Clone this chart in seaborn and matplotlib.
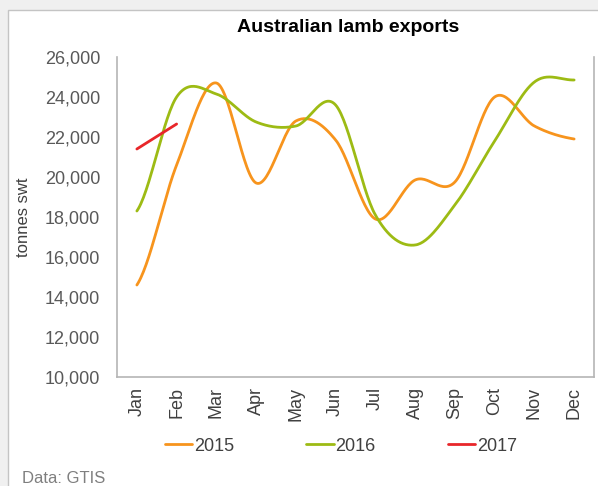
import numpy as np
import pandas as pd
import matplotlib
matplotlib.use("Agg")
import matplotlib.pyplot as plt
from matplotlib.patches import Rectangle
from matplotlib.lines import Line2D
import seaborn as sns

months = ["Jan", "Feb", "Mar", "Apr", "May", "Jun", "Jul", "Aug", "Sep", "Oct", "Nov", "Dec"]
exports_2015 = [14600, 20600, 24700, 19700, 22800, 21850, 17900, 19850, 19750, 24000, 22550, 21900]
exports_2016 = [18300, 24000, 24150, 22750, 22550, 23600, 18100, 16600, 18600, 21800, 24750, 24850]
exports_2017 = [21400, 22650]
yticks = [10000, 12000, 14000, 16000, 18000, 20000, 22000, 24000, 26000]

colors = {"2015": "#F7941D", "2016": "#9DBB14", "2017": "#E8262A"}

sns.set_theme(style="white")
plt.rcParams["font.family"] = ["Liberation Sans", "DejaVu Sans"]


def smooth(vals, n=30):
    """Catmull-Rom (Excel-style smoothed line) through the data points."""
    v = np.asarray(vals, dtype=float)
    x = np.arange(len(v), dtype=float)
    if len(v) < 3:
        return x, v
    p = np.concatenate([[v[0]], v, [v[-1]]])
    xs, ys = [], []
    for i in range(len(v) - 1):
        p0, p1, p2, p3 = p[i], p[i + 1], p[i + 2], p[i + 3]
        t = np.linspace(0, 1, n, endpoint=(i == len(v) - 2))
        c1 = p1 + (p2 - p0) / 6.0
        c2 = p2 - (p3 - p1) / 6.0
        y = ((1 - t) ** 3) * p1 + 3 * ((1 - t) ** 2) * t * c1 + 3 * (1 - t) * t ** 2 * c2 + t ** 3 * p2
        xs.append(x[i] + t)
        ys.append(y)
    return np.concatenate(xs), np.concatenate(ys)


W, H = 598, 486
fig = plt.figure(figsize=(W / 100, H / 100), dpi=100)
fig.patch.set_facecolor("#F0F0F0")
card = Rectangle((8 / W, -0.1), 1.2, 1 - 10 / H + 0.1, transform=fig.transFigure,
                 facecolor="white", edgecolor="#C4C4C4", linewidth=1.0, zorder=-10)
fig.add_artist(card)

ax = fig.add_axes([117 / W, 1 - 377 / H, (594 - 117) / W, (377 - 57) / H])
ax.set_zorder(5)
ax.set_facecolor("white")

for label, vals in [("2015", exports_2015), ("2016", exports_2016), ("2017", exports_2017)]:
    xs, ys = smooth(vals)
    sns.lineplot(x=xs, y=ys, ax=ax, color=colors[label], linewidth=2.0, sort=False,
                 estimator=None, legend=False)

ax.set_xlim(-0.5, len(months) - 0.5)
ax.set_ylim(10000, 26000)
ax.set_xticks(range(len(months)))
ax.set_xticklabels(months, rotation=90, fontsize=13, color="#404040")
ax.set_yticks(yticks)
ax.set_yticklabels([f"{v:,}" for v in yticks], fontsize=13, color="#595959")
ax.tick_params(axis="x", length=0, pad=7)
ax.tick_params(axis="y", length=0, pad=12)
ax.set_ylabel("tonnes swt", fontsize=12, color="#404040")
ax.yaxis.set_label_coords(-0.18, 0.5)
ax.grid(False)
for side in ["left", "bottom", "right"]:
    ax.spines[side].set_visible(True)
    ax.spines[side].set_color("#B5B5B5")
    ax.spines[side].set_linewidth(1.2)
ax.spines["top"].set_visible(False)

fig.text(348 / W, 1 - 27 / H, "Australian lamb exports", ha="center", va="center",
         fontsize=14, fontweight="bold", color="black", zorder=6)

handles = [Line2D([0], [0], color=colors[k], linewidth=2.0) for k in ["2015", "2016", "2017"]]
leg = fig.legend(handles, ["2015", "2016", "2017"], loc="center", bbox_to_anchor=(341 / W, 1 - 446 / H),
                 ncol=3, frameon=False, fontsize=13, handlelength=1.5, handletextpad=0.1,
                 columnspacing=4.0, labelcolor="#404040")
leg.set_zorder(6)

fig.text(22 / W, 1 - 478 / H, "Data: GTIS", ha="left", va="center", fontsize=12, color="#7F7F7F", zorder=6)

fig.savefig("out.png", dpi=100, facecolor=fig.get_facecolor())
